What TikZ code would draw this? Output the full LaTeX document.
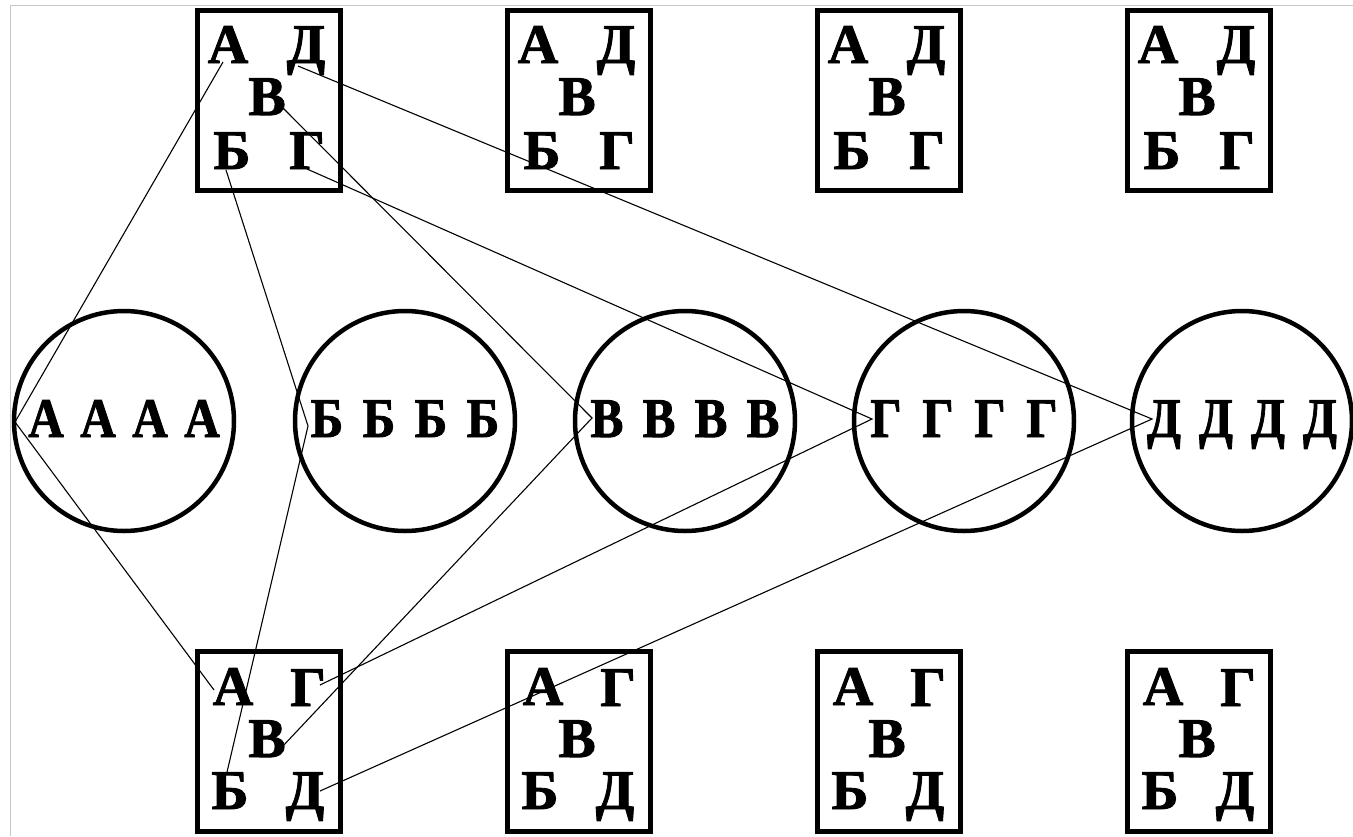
\documentclass[tikz,border=0pt]{standalone}
\usepackage{fontspec}
\setmainfont{Liberation Serif}[BoldFeatures={FakeBold=1.6}]
\begin{document}
\begin{tikzpicture}[x=1pt,y=-1pt,
  frame/.style={draw, line width=5pt, minimum width=143pt, minimum height=180pt, inner sep=0pt},
  ring/.style={draw, circle, line width=4.5pt, minimum size=220pt, inner sep=0pt},
  lt/.style={font=\bfseries\fontsize{56}{56}\selectfont, inner sep=0pt, anchor=base},
  link/.style={line width=1.1pt},
  scanedge/.style={draw=black!22, line width=0.8pt}]
\useasboundingbox (0,0) rectangle (1353,836);
\fill[white] (0,0) rectangle (1353,836);
\draw[scanedge] (10,836) -- (10,5) -- (1353,5);
% boxes
\foreach \i/\L in {1/195,2/505,3/815,4/1125}{
  \node[frame] (T\i) at (\L+74,100.5) {};
  \node[lt] (T\i-a) at (\L+33,63) {А};
  \node[lt] (T\i-d) at (\L+111,63) {Д};
  \node[lt] (T\i-v) at (\L+72,115) {В};
  \node[lt] (T\i-b) at (\L+37,169) {Б};
  \node[lt] (T\i-g) at (\L+112,169) {Г};
  \node[frame] (B\i) at (\L+74,741) {};
  \node[lt] (B\i-a) at (\L+38,705) {А};
  \node[lt] (B\i-g) at (\L+113,706) {Г};
  \node[lt] (B\i-v) at (\L+72,757) {В};
  \node[lt] (B\i-b) at (\L+35,809) {Б};
  \node[lt] (B\i-d) at (\L+110,809) {Д};
}
% circles
\foreach \c/\x/\S in {a/124/А,b/405/Б,v/685/В,g/964/Г,d/1242/Д}{
  \node[ring] (C\c) at (\x,421) {};
  \foreach \o [count=\k] in {-78,-26,26,78}
    \node[lt] (C\c\k) at (\x+\o,437) {\scalebox{0.88}[1]{\S}};
}
\coordinate (va) at (15,422);
\coordinate (vb) at (308,426);
\coordinate (vv) at (592,418);
\coordinate (vg) at (872,419);
\coordinate (vd) at (1152,419);
% connectors
\draw[link] ([shift={(-5,-1)}]T1-a.base) -- (va) -- ([shift={(-19,-15)}]B1-a.base);
\draw[link] ([shift={(-6,1)}]T1-b.base) -- (vb) -- ([shift={(-3,0)}]B1-b.north);
\draw[link] ([shift={(15,-8)}]T1-v.base) -- (vv) -- ([shift={(15,-10)}]B1-v.base);
\draw[link] (T1-g.base) -- (vg) -- ([shift={(12,-21)}]B1-g.base);
\draw[link] ([shift={(-8,3)}]T1-d.base) -- (vd) -- ([shift={(15,-18)}]B1-d.base);
\end{tikzpicture}
\end{document}
